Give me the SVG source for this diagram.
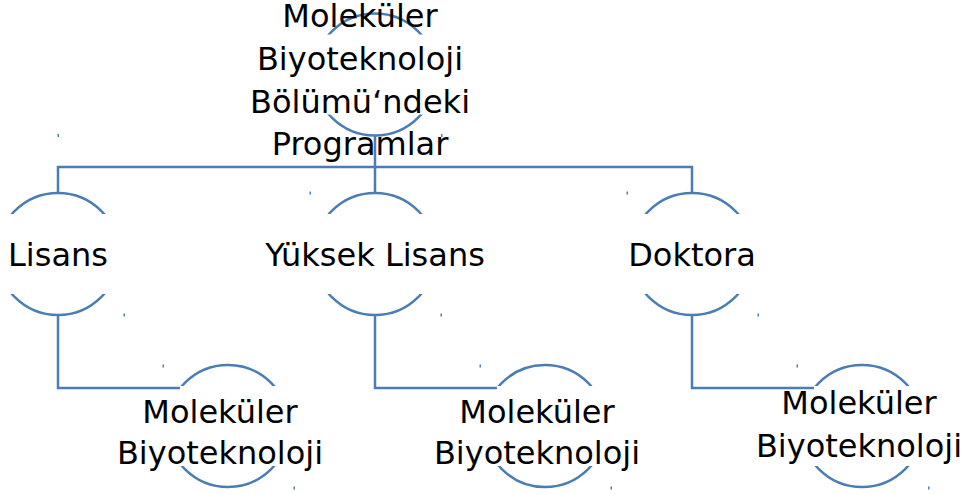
<svg xmlns="http://www.w3.org/2000/svg" width="970" height="495" viewBox="0 0 970 495">
<style>
.ring{fill:none;stroke:#4a7db5;stroke-width:2.5;clip-path:url(#band)}
.conn{fill:none;stroke:#4a7db5;stroke-width:2.5}
.lbl{font-family:"DejaVu Sans",Verdana,sans-serif;font-size:32px;fill:#000;text-anchor:middle}
.dot{fill:#4a7db5}
</style>
<defs>
<clipPath id="band" clipPathUnits="objectBoundingBox">
<rect x="-0.2" y="-0.2" width="1.4" height="0.372"/>
<rect x="-0.2" y="0.828" width="1.4" height="0.372"/>
</clipPath>
</defs>
<rect width="970" height="495" fill="#fff"/>
<g id="connectors">
<path class="conn" d="M375 136V193M58 193V167H692V193"/>
<path class="conn" d="M58 315V388H180"/>
<path class="conn" d="M375 315V388H497"/>
<path class="conn" d="M692 315V388H814"/>
</g>
<g id="marks">
<rect class="dot" x="57.5" y="134" width="1.5" height="3"/>
<rect class="dot" x="441" y="134" width="1.5" height="3"/>
<rect class="dot" x="309.5" y="191.5" width="1.5" height="3"/>
<rect class="dot" x="626.5" y="191.5" width="1.5" height="3"/>
<rect class="dot" x="123.5" y="313.5" width="1.5" height="3"/>
<rect class="dot" x="440.5" y="313.5" width="1.5" height="3"/>
<rect class="dot" x="757.5" y="313.5" width="1.5" height="3"/>
<rect class="dot" x="162.5" y="364.5" width="1.5" height="3"/>
<rect class="dot" x="479.5" y="364.5" width="1.5" height="3"/>
<rect class="dot" x="796.5" y="364.5" width="1.5" height="3"/>
<rect class="dot" x="293.5" y="486.5" width="1.5" height="3"/>
<rect class="dot" x="610.5" y="486.5" width="1.5" height="3"/>
<rect class="dot" x="928" y="486.5" width="1.5" height="3"/>
</g>
<g id="root">
<circle class="ring" cx="375" cy="74.5" r="61"/>
<text class="lbl" x="360"><tspan x="360" y="27">Moleküler</tspan><tspan x="360" y="70">Biyoteknoloji</tspan><tspan x="360" y="113">Bölümü‘ndeki</tspan><tspan x="360" y="155">Programlar</tspan></text>
</g>
<g id="lisans">
<circle class="ring" cx="58" cy="254" r="61"/>
<text class="lbl" x="58" y="266">Lisans</text>
</g>
<g id="yuksek-lisans">
<circle class="ring" cx="375" cy="254" r="61"/>
<text class="lbl" x="375" y="266">Yüksek Lisans</text>
</g>
<g id="doktora">
<circle class="ring" cx="692" cy="254" r="61"/>
<text class="lbl" x="692" y="266">Doktora</text>
</g>
<g id="lisans-mb">
<circle class="ring" cx="228" cy="426" r="61"/>
<text class="lbl"><tspan x="220" y="423">Moleküler</tspan><tspan x="220" y="464">Biyoteknoloji</tspan></text>
</g>
<g id="yuksek-lisans-mb">
<circle class="ring" cx="545" cy="426" r="61"/>
<text class="lbl"><tspan x="537" y="423">Moleküler</tspan><tspan x="537" y="464">Biyoteknoloji</tspan></text>
</g>
<g id="doktora-mb">
<circle class="ring" cx="862" cy="426" r="61"/>
<text class="lbl"><tspan x="859" y="414">Moleküler</tspan><tspan x="859" y="457">Biyoteknoloji</tspan></text>
</g>
</svg>
